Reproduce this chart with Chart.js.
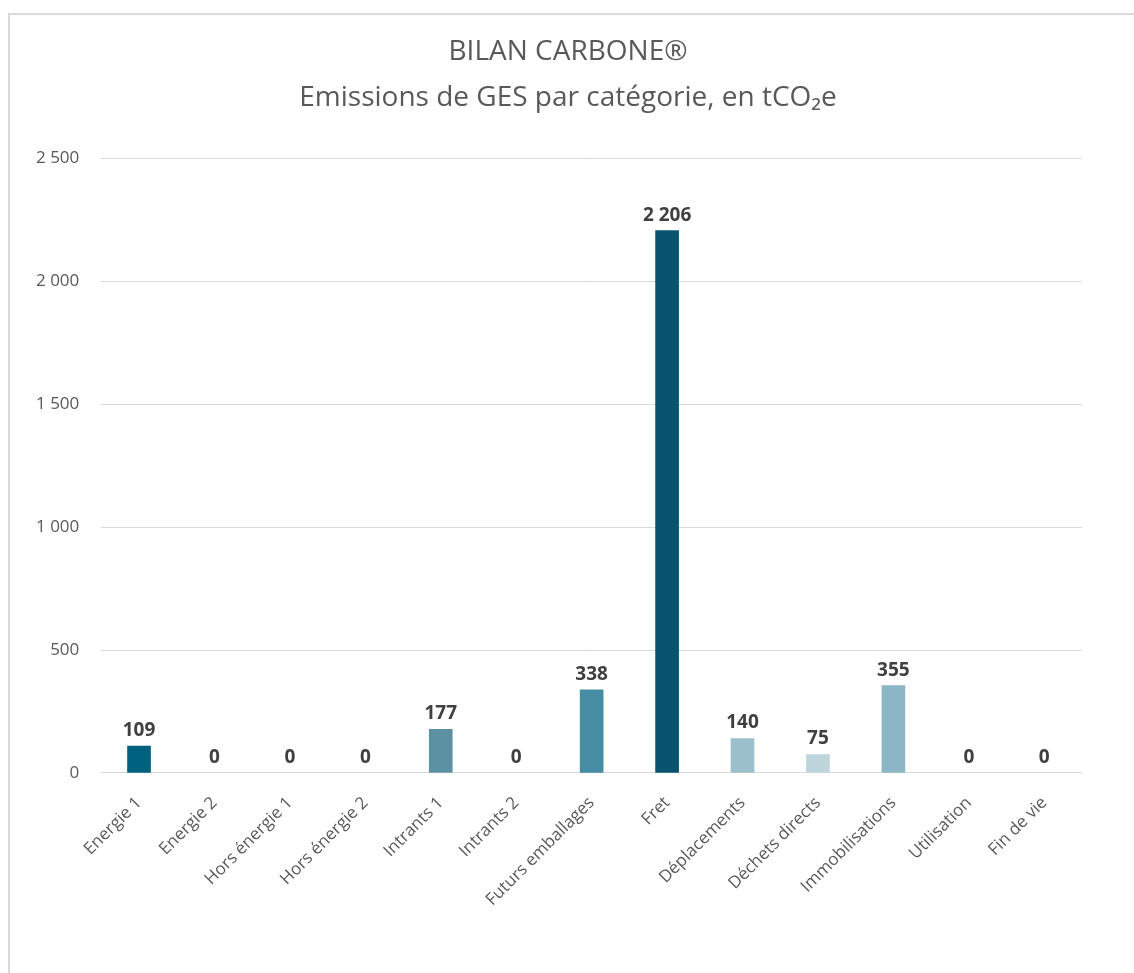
<!DOCTYPE html>
<html>
<head>
<meta charset="utf-8">
<script src="https://cdn.jsdelivr.net/npm/chart.js@4/dist/chart.umd.min.js"></script>
<style>
    body { margin: 0; background: #fff; overflow: hidden; }
    #frame {
        position: absolute;
        left: 8px;
        top: 13px;
        width: 1158px;
        height: 970px;
        border: 2px solid #d9d9d9;
        box-sizing: border-box;
    }
</style>
</head>
<body>
<div id="frame"><canvas id="bilanChart"></canvas></div>
<script>
// Bilan Carbone - emissions per category

const categories = ['Energie 1', 'Energie 2', 'Hors énergie 1', 'Hors énergie 2', 'Intrants 1', 'Intrants 2',
    'Futurs emballages', 'Fret', 'Déplacements', 'Déchets directs', 'Immobilisations', 'Utilisation', 'Fin de vie'];
const emissions = [109, 0, 0, 0, 177, 0, 338, 2206, 140, 75, 355, 0, 0];
const barColors = ['#00607f', '#00607f', '#00607f', '#00607f', '#5b91a3', '#5b91a3', '#468ca3',
    '#095370', '#9bbfcb', '#bfd5dc', '#8cb6c5', '#8cb6c5', '#8cb6c5'];
const yTicks = [0, 500, 1000, 1500, 2000, 2500];

const FONT = "'Open Sans', sans-serif";

// Function to format numbers with a space as thousands separator
function formatNumber(value) {
    return String(value).replace(/\B(?=(\d{3})+(?!\d))/g, ' ');
}

// Draw the value above every bar
const valueLabels = {
    id: 'valueLabels',
    afterDatasetsDraw(chart) {
        const ctx = chart.ctx;
        const meta = chart.getDatasetMeta(0);
        ctx.save();
        ctx.font = 'bold 19px ' + FONT;
        ctx.fillStyle = '#404040';
        ctx.textAlign = 'center';
        ctx.textBaseline = 'bottom';
        meta.data.forEach((bar, i) => {
            ctx.fillText(formatNumber(emissions[i]), bar.x, bar.y - 6);
        });
        ctx.restore();
    }
};

// Title sits a bit right of the canvas centre in the original
const titleNudge = {
    id: 'titleNudge',
    afterLayout(chart) {
        if (chart.titleBlock) {
            chart.titleBlock.left += 40;
        }
    }
};

const ctx = document.getElementById('bilanChart').getContext('2d');
new Chart(ctx, {
    type: 'bar',
    data: {
        labels: categories,
        datasets: [{
            data: emissions,
            // zero bars leave no mark in the original
            backgroundColor: barColors.map((c, i) => emissions[i] === 0 ? 'rgba(0,0,0,0)' : c),
            barThickness: 23
        }]
    },
    options: {
        responsive: true,
        maintainAspectRatio: false,
        animation: false,
        layout: {
            padding: { left: 4, right: 82, top: 14, bottom: 59 }
        },
        scales: {
            x: {
                grid: { display: false },
                border: { display: false },
                ticks: {
                    color: '#595959',
                    font: { family: FONT, size: 17 },
                    minRotation: 45,
                    maxRotation: 45,
                    padding: 12
                }
            },
            y: {
                min: 0,
                max: 2500,
                afterBuildTicks: function(axis) {
                    axis.ticks = yTicks.map(v => ({ value: v }));
                },
                grid: { color: '#d9d9d9', lineWidth: 1, drawTicks: false },
                border: { display: false },
                ticks: {
                    color: '#595959',
                    font: { family: FONT, size: 17 },
                    padding: 22,
                    callback: function(value) {
                        return formatNumber(value);
                    }
                }
            }
        },
        plugins: {
            legend: { display: false },
            tooltip: { enabled: false },
            title: {
                display: true,
                text: ['BILAN CARBONE®', 'Emissions de GES par catégorie, en tCO₂e'],
                color: '#595959',
                font: { family: FONT, size: 28, weight: 'normal', lineHeight: 1.65 },
                padding: { top: 0, bottom: 37 }
            }
        }
    },
    plugins: [valueLabels, titleNudge]
});
</script>
</body>
</html>
